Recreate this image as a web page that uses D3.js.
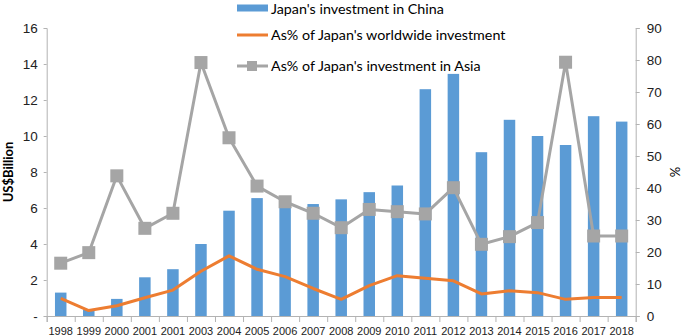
<!DOCTYPE html>
<html>
<head>
<meta charset="utf-8">
<script src="https://cdn.jsdelivr.net/npm/d3@7"></script>
<style>
  body { margin: 0; background: #fff; }
  svg { display: block; font-family: Lato, "Open Sans", sans-serif; }
  .axis path, .axis line { stroke: #b3b3b3; }
  .axis text { fill: #222; }
</style>
</head>
<body>
<svg width="685" height="336"></svg>
<script>
// years as printed on the chart (the second 2001 is in the original)
var years = ["1998","1999","2000","2001","2001","2003","2004","2005","2006","2007","2008",
             "2009","2010","2011","2012","2013","2014","2015","2016","2017","2018"];
// US$ billion
var investChina = [1.3,0.35,0.95,2.15,2.6,4.0,5.85,6.55,6.2,6.22,6.48,6.88,7.25,12.6,13.45,9.1,10.9,10.0,9.5,11.1,10.8];
// percent
var pctWorld = [5.5,1.7,3.2,5.7,8.1,14.0,18.8,14.6,12.3,8.6,5.2,9.5,12.6,11.8,11.0,6.9,7.9,7.3,5.2,5.8,5.8];
var pctAsia = [16.5,19.8,43.8,27.4,32.1,79.2,55.7,40.6,35.7,32.1,27.6,33.3,32.6,31.9,40.1,22.4,24.8,29.2,79.3,25,25];

var leftTicks = [0,2,4,6,8,10,12,14,16];
var rightTicks = [0,10,20,30,40,50,60,70,80,90];

const plotL = 46.7, plotR = 635.7, plotT = 28, plotB = 316;
const svg = d3.select('svg');

const x = d3.scaleBand()
    .domain(d3.range(years.length))
    .range([plotL, plotR])
    .paddingInner(0.59)
    .paddingOuter(0.295);
const xEdge = d3.scaleLinear().domain([0, years.length]).range([plotL, plotR]);
const yL = d3.scaleLinear().domain([0, 16]).range([plotB, plotT]);
const yR = d3.scaleLinear().domain([0, 90]).range([plotB, plotT]);
const cx = i => xEdge(i + 0.5);

// bars
svg.append('g').selectAll('rect')
    .data(investChina)
    .enter().append('rect')
    .attr('x', (d, i) => x(i))
    .attr('y', d => yL(d))
    .attr('width', x.bandwidth())
    .attr('height', d => plotB - yL(d))
    .attr('fill', '#5b9bd5');

// axes
svg.append('g').attr('class', 'axis')
    .attr('transform', `translate(${plotL},0)`)
    .call(d3.axisLeft(yL).tickValues(leftTicks).tickSize(3).tickPadding(6)
        .tickFormat(d => d === 0 ? '-' : d))
    .call(g => g.selectAll('text').style('font-size', '13.5px'));

svg.append('g').attr('class', 'axis')
    .attr('transform', `translate(${plotR},0)`)
    .call(d3.axisRight(yR).tickValues(rightTicks).tickSize(4).tickPadding(7))
    .call(g => g.selectAll('text').style('font-size', '13.5px'));

svg.append('g').attr('class', 'axis')
    .attr('transform', `translate(0,${plotB})`)
    .call(d3.axisBottom(xEdge).tickValues(d3.range(years.length + 1)).tickSize(6).tickFormat(''));

svg.append('g').attr('class', 'axis')
    .attr('transform', `translate(0,${plotB})`)
    .call(d3.axisBottom(x).tickSize(0).tickPadding(11).tickFormat(i => years[i]))
    .call(g => g.select('.domain').remove())
    .call(g => g.selectAll('text').style('font-size', '11px'));

// lines
const lineW = d3.line().x((d, i) => cx(i)).y(d => yR(d));
svg.append('path')
    .attr('d', lineW(pctWorld))
    .attr('fill', 'none')
    .attr('stroke', '#ed7d31')
    .attr('stroke-width', 3)
    .attr('stroke-linejoin', 'round');

svg.append('path')
    .attr('d', lineW(pctAsia))
    .attr('fill', 'none')
    .attr('stroke', '#a5a5a5')
    .attr('stroke-width', 3)
    .attr('stroke-linejoin', 'round');

svg.append('g').selectAll('rect')
    .data(pctAsia)
    .enter().append('rect')
    .attr('x', (d, i) => cx(i) - 6.5)
    .attr('y', d => yR(d) - 6.5)
    .attr('width', 13)
    .attr('height', 13)
    .attr('fill', '#a5a5a5');

// axis titles
svg.append('text')
    .attr('transform', `translate(13,${(plotT + plotB) / 2}) rotate(-90)`)
    .attr('text-anchor', 'middle')
    .style('font-size', '13px')
    .style('font-weight', 'bold')
    .text('US$Billion');

svg.append('text')
    .attr('transform', `translate(680,${(plotT + plotB) / 2}) rotate(-90)`)
    .attr('text-anchor', 'middle')
    .style('font-size', '13px')
    .text('%');

// legend
const legend = svg.append('g').style('font-size', '14.3px');
legend.append('rect').attr('x', 237).attr('y', 4.5).attr('width', 31).attr('height', 7).attr('fill', '#5b9bd5');
legend.append('text').attr('x', 271).attr('y', 8.5).attr('dy', '0.35em').text("Japan's investment in China");

legend.append('line').attr('x1', 237).attr('x2', 268).attr('y1', 35).attr('y2', 35)
    .attr('stroke', '#ed7d31').attr('stroke-width', 3);
legend.append('text').attr('x', 271).attr('y', 35).attr('dy', '0.35em').text("As% of Japan's worldwide investment");

legend.append('line').attr('x1', 237).attr('x2', 268).attr('y1', 66).attr('y2', 66)
    .attr('stroke', '#a5a5a5').attr('stroke-width', 3);
legend.append('rect').attr('x', 247).attr('y', 61).attr('width', 10).attr('height', 10).attr('fill', '#a5a5a5');
legend.append('text').attr('x', 271).attr('y', 66).attr('dy', '0.35em').text("As% of Japan's investment in Asia");
</script>
</body>
</html>
